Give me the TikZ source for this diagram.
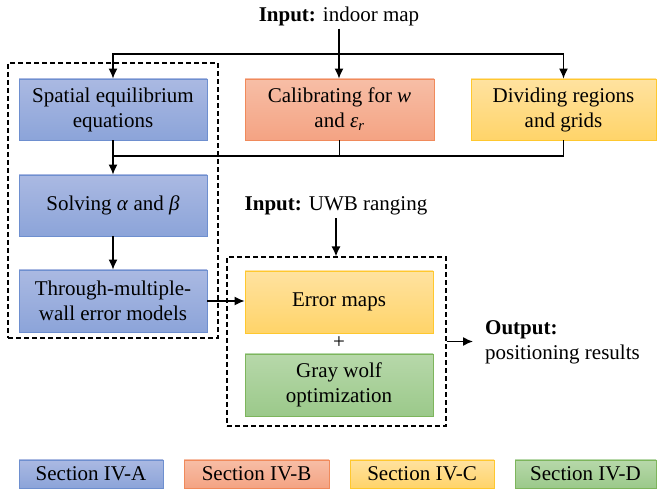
\documentclass[tikz,border=0pt]{standalone}
\usepackage{fontspec}
\setmainfont{Liberation Serif}
\usetikzlibrary{arrows.meta}
\definecolor{bTop}{HTML}{AAB9E2}
\definecolor{bBot}{HTML}{8CA4D9}
\definecolor{bLine}{HTML}{6E8FCF}
\definecolor{oTop}{HTML}{F7BEA6}
\definecolor{oBot}{HTML}{F4A383}
\definecolor{oLine}{HTML}{F08A5B}
\definecolor{yTop}{HTML}{FFE2A0}
\definecolor{yBot}{HTML}{FFD469}
\definecolor{yLine}{HTML}{FFC82E}
\definecolor{gTop}{HTML}{B7D8AA}
\definecolor{gBot}{HTML}{9BC98A}
\definecolor{gLine}{HTML}{7DB55C}
\newcommand{\ivar}[1]{\textit{#1}}
\tikzset{
  box/.style={rectangle, inner sep=0pt, align=center, line width=0.8pt,
    font=\fontsize{21}{25}\selectfont, minimum height=61pt},
  bluebox/.style={box, draw=bLine, top color=bTop, bottom color=bBot},
  orangebox/.style={box, draw=oLine, top color=oTop, bottom color=oBot},
  yellowbox/.style={box, draw=yLine, top color=yTop, bottom color=yBot},
  greenbox/.style={box, draw=gLine, top color=gTop, bottom color=gBot},
  legbox/.style={minimum height=28pt},
  dashbox/.style={draw, dashed, dash pattern=on 5pt off 3pt, line width=1.1pt, inner sep=0pt},
  txt/.style={font=\fontsize{21}{25}\selectfont, inner sep=3pt},
  arr/.style={line width=1.4pt, -{Latex[length=10pt,width=9pt]}},
  ln/.style={line width=1.4pt}
}
\begin{document}
\begin{tikzpicture}[x=1pt,y=-1pt]
\useasboundingbox[fill=white] (0,0) rectangle (657,489);
% main boxes
\node[bluebox, minimum width=188pt] (spat) at (113,109.5) {Spatial equilibrium\\equations};
\node[orangebox, minimum width=189pt] (cal) at (339.5,109.5) {Calibrating for \ivar{w}\\and \ivar{ε}\textsubscript{\ivar{r}}};
\node[yellowbox, minimum width=185pt] (div) at (563.5,109.5) {Dividing regions\\and grids};
\node[bluebox, minimum width=188pt] (solv) at (113,205.5) {Solving \ivar{α} and \ivar{β}};
\node[bluebox, minimum width=188pt, minimum height=62pt] (thr) at (113,301) {Through-multiple-\\wall error models};
\node[yellowbox, minimum width=188pt, minimum height=62pt] (err) at (339,302) {Error maps};
\node[greenbox, minimum width=188pt, minimum height=62pt] (gwo) at (339,385) {Gray wolf\\optimization};
% dashed groups
\node[dashbox, minimum width=210pt, minimum height=275pt] (grp1) at (113,200.5) {};
\node[dashbox, minimum width=219pt, minimum height=169pt] (grp2) at (336.5,341.5) {};
% texts
\node[txt] (in1) at (339,16) {\textbf{Input:} indoor map};
\node[txt] (in2) at (336,206) {\textbf{Input:} UWB ranging};
\node[txt] (plus) at (339,343) {+};
\node[txt, anchor=west, align=left, inner xsep=12pt] (out) at (473,342) {\textbf{Output:}\\positioning results};
% legend
\node[bluebox, legbox, minimum width=144pt] (lA) at (91,474) {Section IV-A};
\node[orangebox, legbox, minimum width=145pt] (lB) at (256.5,474) {Section IV-B};
\node[yellowbox, legbox, minimum width=144pt] (lC) at (422,474) {Section IV-C};
\node[greenbox, legbox, minimum width=141pt] (lD) at (585.5,474) {Section IV-D};
% connectors
\coordinate (top) at (339,54);
\coordinate (mid) at (339,156);
\draw[arr] (in1.south) -- (in1.south |- cal.north);
\draw[arr] (top) -| (spat.north);
\draw[arr] (top) -| (div.north);
\draw[ln] (div.south) |- (spat.south |- mid);
\draw[ln] (cal.south) -- (cal.south |- mid);
\draw[arr] (spat.south) -- (solv.north);
\draw[arr] (solv.south) -- (thr.north);
\draw[arr] (thr.east) -- (thr.east -| err.west);
\draw[arr] (in2.south) -- (in2.south |- grp2.north);
\draw[arr] (grp2.east) -- (grp2.east -| out.west);
\end{tikzpicture}
\end{document}
